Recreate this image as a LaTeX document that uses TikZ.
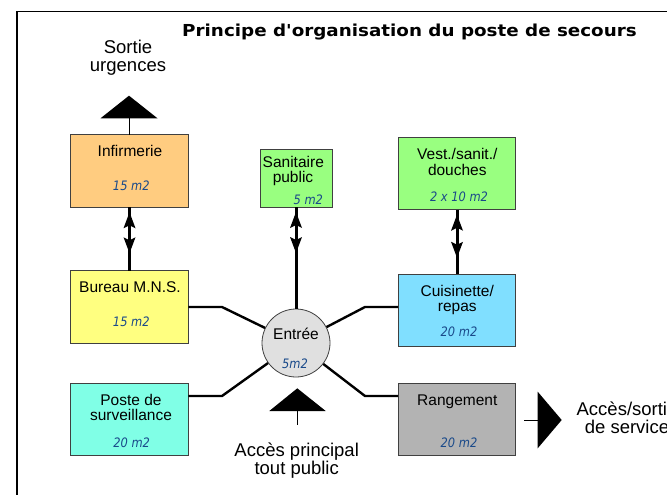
\documentclass[tikz,border=0pt]{standalone}
\usepackage{fontspec}
\setmainfont{Liberation Sans}
\newfontfamily\titlefont[FakeStretch=1.11,Ligatures=TeXOff]{DejaVu Sans}
\newfontfamily\areafont[FakeStretch=0.88]{DejaVu Sans}
\usetikzlibrary{arrows.meta,decorations.markings}
\definecolor{infc}{HTML}{FFCC80}
\definecolor{burc}{HTML}{FFFF80}
\definecolor{sanc}{HTML}{99FF80}
\definecolor{cuic}{HTML}{80DFFF}
\definecolor{posc}{HTML}{80FFE6}
\definecolor{ranc}{HTML}{B3B3B3}
\definecolor{entc}{HTML}{E0E0E0}
\definecolor{areablue}{HTML}{1A4A8A}
\begin{document}
\begin{tikzpicture}[x=1pt,y=-1pt,
  room/.style={draw=black!75, line width=0.8pt, minimum width=117.6pt, minimum height=72.5pt, inner sep=0pt, outer sep=0pt},
  lbl/.style={anchor=base, inner sep=0pt, font=\fontsize{15.5}{18}\selectfont},
  area/.style={anchor=base, inner sep=0pt, text=areablue, font=\areafont\itshape\fontsize{13}{15}\selectfont},
  big/.style={anchor=base, inner sep=0pt, font=\fontsize{18.5}{22}\selectfont},
  link/.style={line width=2.4pt},
  stem/.style={line width=0.8pt},
  dbl/.style={line width=3pt, postaction={decorate}, decoration={markings,
     mark=at position 5pt with {\arrowreversed{Stealth[length=16pt,width=12pt,inset=3pt,line width=0pt]}},
     mark=at position #1 with {\arrow{Stealth[length=16pt,width=12pt,inset=3pt,line width=0pt]}}}}
]
\useasboundingbox (0,0) rectangle (667,495);
\clip (0,0) rectangle (667,495);
\fill[white] (0,0) rectangle (667,495);
% frame
\draw[line width=1.3pt] (17,520) -- (17,11.5) -- (700,11.5);
% title
\node[anchor=base, inner sep=0pt, font=\titlefont\bfseries\fontsize{16.5}{20}\selectfont] (title) at (409.5,36.7) {Principe d'organisation du poste de secours};
% rooms
\node[room, fill=infc] (inf) at (129.5,171) {};
\node[room, fill=burc] (bur) at (129.5,307) {};
\node[room, fill=posc] (pos) at (129.5,419.5) {};
\node[room, fill=sanc, minimum width=72pt, minimum height=58pt] (san) at (296,178) {};
\node[room, fill=sanc] (ves) at (457,173.5) {};
\node[room, fill=cuic] (cui) at (457,310.5) {};
\node[room, fill=ranc] (ran) at (457,419.5) {};
\node[circle, draw=black!75, line width=0.8pt, fill=entc, minimum size=68pt, inner sep=0pt] (ent) at (296,343) {};
% texts
\node[lbl] (tinf) at (130,156) {Infirmerie};
\node[area] (ainf) at (131.3,190) {15 m2};
\node[lbl] (tbur) at (130,292.3) {Bureau M.N.S.};
\node[area] (abur) at (131.3,326) {15 m2};
\node[lbl] (tpos1) at (131,405) {Poste de};
\node[lbl] (tpos2) at (131,420.7) {surveillance};
\node[area] (apos) at (131.7,447.3) {20 m2};
\node[lbl] (tsan1) at (293.3,167.3) {Sanitaire};
\node[lbl] (tsan2) at (293,182.3) {public};
\node[area] (asan) at (308.3,204) {5 m2};
\node[lbl] (tves1) at (457.3,159.3) {Vest./sanit./};
\node[lbl] (tves2) at (457.3,175) {douches};
\node[area] (aves) at (459,201) {2 x 10 m2};
\node[lbl] (tcui1) at (457.3,296) {Cuisinette/};
\node[lbl] (tcui2) at (457.3,311.7) {repas};
\node[area] (acui) at (459,336.7) {20 m2};
\node[lbl] (tran) at (457.3,405) {Rangement};
\node[area] (aran) at (459,447) {20 m2};
\node[lbl] (tent) at (296,339) {Entrée};
\node[area] (aent) at (295,368.3) {5m2};
% outside labels
\node[big] (so1) at (128,53.3) {Sortie};
\node[big] (so2) at (128,72) {urgences};
\node[big] (ac1) at (296.7,456.7) {Accès principal};
\node[big] (ac2) at (296.7,474) {tout public};
\node[big] (as1) at (627,415) {Accès/sortie};
\node[big] (as2) at (627,433.3) {de service};
% entrance triangles
\fill (129,95.7) -- (157.5,118.3) -- (100.5,118.3) -- cycle;
\coordinate (su) at (129,118.3);
\draw[stem] (su) -- (su |- inf.north);
\fill (297.3,388.3) -- (325.7,411) -- (269.3,411) -- cycle;
\coordinate (ap) at (297.3,411);
\coordinate (apb) at (297.3,425);
\draw[stem] (ap) -- (apb);
\fill (561.7,420) -- (537.7,391.7) -- (537.7,448.3) -- cycle;
\coordinate (asr) at (537.7,420);
\coordinate (asl) at (524,420);
\draw[stem] (asl) -- (asr);
% links to entrance
\coordinate (bl) at (222,307);
\coordinate (br) at (365,307);
\coordinate (pl) at (222,396);
\coordinate (rl) at (365,396);
\draw[link] (bur.east |- bl) -- (bl) -- (ent);
\draw[link] (cui.west |- br) -- (br) -- (ent);
\draw[link] (pos.east |- pl) -- (pl) -- (ent);
\draw[link] (ran.west |- rl) -- (rl) -- (ent);
% double arrows
\draw[dbl=46pt] (inf.south) -- (bur.north);
\draw[dbl=46pt] (san.south) -- (ent.north);
\draw[dbl=48pt] (ves.south) -- (cui.north);
\end{tikzpicture}
\end{document}
